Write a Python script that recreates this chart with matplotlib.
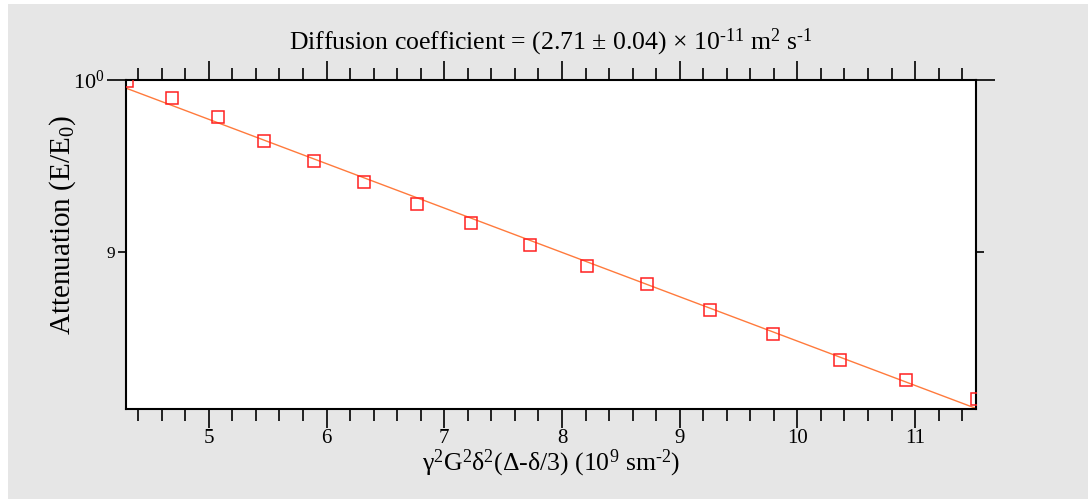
import numpy as np
import matplotlib
matplotlib.use("Agg")
import matplotlib.pyplot as plt
from matplotlib.patches import Rectangle
from matplotlib.ticker import FixedLocator, FixedFormatter, MultipleLocator

plt.rcParams['font.family'] = ['Liberation Serif', 'DejaVu Serif']
plt.rcParams['mathtext.fontset'] = 'custom'
plt.rcParams['mathtext.rm'] = 'Liberation Serif'
plt.rcParams['mathtext.it'] = 'Liberation Serif:italic'
plt.rcParams['mathtext.default'] = 'regular'

# gradient factor gamma^2 G^2 delta^2 (Delta - delta/3), in 1e9 s m^-2
b_values = [4.304, 4.684, 5.075, 5.468, 5.890, 6.320, 6.771, 7.229,
            7.726, 8.215, 8.720, 9.260, 9.795, 10.359, 10.925, 11.526]
# normalised echo attenuation E/E0
attenuation = [0.9994, 0.9889, 0.9777, 0.9634, 0.9517, 0.9396, 0.9271, 0.9163,
               0.9040, 0.8928, 0.8827, 0.8690, 0.8562, 0.8430, 0.8324, 0.8231]

# diffusion coefficient in 1e-11 m^2/s (slope of ln(E/E0) vs b, scaled by 1e-2)
D = 2.71
D_err = 0.04

b = np.array(b_values)
E = np.array(attenuation)
slope = D * 1e-2
# intercept with the slope fixed at D
ln_A = np.mean(np.log(E) + slope * b)

xmin, xmax = 4.296, 11.513
x_fit = np.linspace(xmin, xmax, 200)
y_fit = np.exp(ln_A - slope * x_fit)

HY = '\u2010'  # plain hyphen in superscripts instead of a minus sign

fig = plt.figure(figsize=(10.88, 4.99), dpi=100)
fig.patch.set_facecolor('white')
fig.patches.append(Rectangle((8 / 1088, 0), 1, 495 / 499, transform=fig.transFigure,
                             facecolor='#e6e6e6', edgecolor='none', zorder=-10))

ax = fig.add_axes([0.1158, 0.1804, 0.7808, 0.6593])
ax.set_facecolor('white')

ax.plot(x_fit, y_fit, color='#ff7a3c', lw=1.0, zorder=2)
ax.plot(b, E, linestyle='none', marker='s', markersize=8, markerfacecolor='none',
        markeredgecolor='#ff2020', markeredgewidth=1.1, zorder=3)

ax.set_yscale('log')
ax.set_xlim(xmin, xmax)
ax.set_ylim(0.8179, 1.0)

for s in ax.spines.values():
    s.set_linewidth(1.5)

ax.xaxis.set_major_locator(MultipleLocator(1))
ax.xaxis.set_minor_locator(MultipleLocator(0.2))
ax.yaxis.set_major_locator(FixedLocator([1.0]))
ax.yaxis.set_major_formatter(FixedFormatter([r'$10^0$']))
ax.yaxis.set_minor_locator(FixedLocator([0.9]))
ax.yaxis.set_minor_formatter(FixedFormatter(['9']))

ax.tick_params(axis='x', which='both', direction='out', top=True, bottom=True,
               width=1.2, labelsize=15, pad=1)
ax.tick_params(axis='x', which='major', length=13.5)
ax.tick_params(axis='x', which='minor', length=8.5)
ax.tick_params(axis='y', which='both', direction='out', left=True, right=True, width=1.2)
ax.tick_params(axis='y', which='major', length=13.5, labelsize=16, pad=2)
ax.tick_params(axis='y', which='minor', length=6, labelsize=12.5, pad=2)

ax.set_xlabel('$γ^2$G$^2$δ$^2$(Δ-δ/3) (10$^9$ sm$^{%s2}$)' % HY,
              fontsize=18.5, labelpad=0)
ax.set_ylabel('Attenuation (E/E$_0$)', fontsize=21)
ax.yaxis.set_label_coords(-0.057, 0.56)
ax.set_title('Diffusion coefficient = (%.2f ± %.2f) × 10$^{%s11}$ m$^2$ s$^{%s1}$'
             % (D, D_err, HY, HY), fontsize=18.5, pad=22)

fig.savefig('out.png', dpi=100)
